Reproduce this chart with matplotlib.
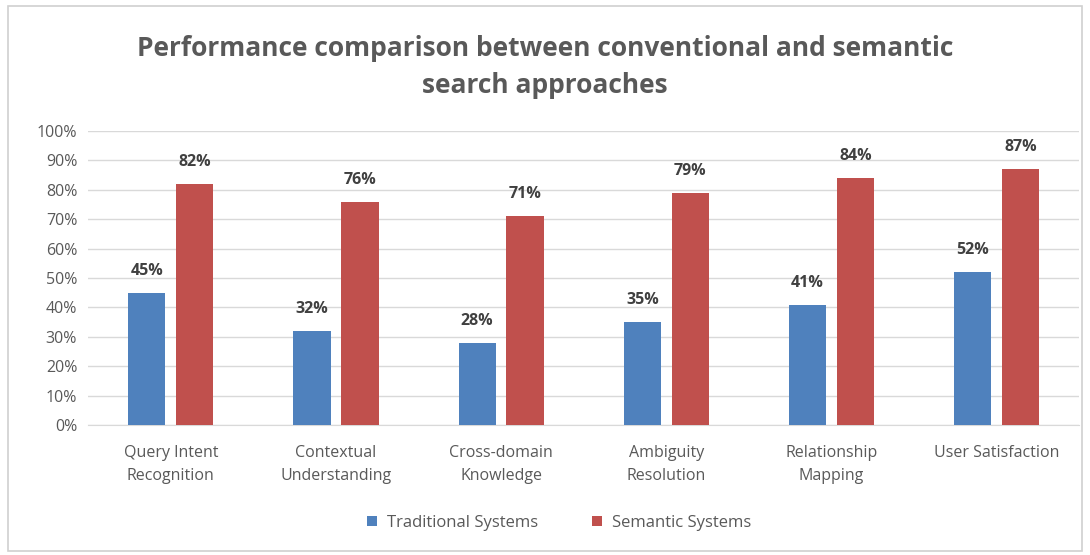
import matplotlib.pyplot as plt
import numpy as np
from matplotlib.patches import Rectangle

categories = ["Query Intent\nRecognition", "Contextual\nUnderstanding", "Cross-domain\nKnowledge",
              "Ambiguity\nResolution", "Relationship\nMapping", "User Satisfaction"]
traditional = [45, 32, 28, 35, 41, 52]
semantic = [82, 76, 71, 79, 84, 87]

blue = '#4F81BD'
red = '#C0504D'
grey = '#595959'

plt.rcParams['font.family'] = ['Open Sans', 'DejaVu Sans']

fig = plt.figure(figsize=(10.9, 5.55), dpi=100)
ax = fig.add_axes([0.081, 0.234, 0.909, 0.530])

x = np.arange(len(categories))
w = 0.225
b1 = ax.bar(x - 0.145, traditional, w, color=blue, label='Traditional Systems', zorder=3)
b2 = ax.bar(x + 0.145, semantic, w, color=red, label='Semantic Systems', zorder=3)

for bars, vals in ((b1, traditional), (b2, semantic)):
    for r, v in zip(bars, vals):
        ax.annotate(f"{v}%", (r.get_x() + r.get_width() / 2, v), xytext=(0, 10),
                    textcoords='offset points', ha='center', va='bottom',
                    fontsize=11.5, fontweight='bold', color='#404040')

ax.set_xlim(-0.5, len(categories) - 0.5)
ax.set_ylim(0, 100)
ax.set_yticks(range(0, 101, 10))
ax.set_yticklabels([f"{t}%" for t in range(0, 101, 10)])
ax.set_xticks(x)
ax.set_xticklabels(categories, linespacing=1.6)
ax.tick_params(axis='both', length=0, labelsize=11.5, labelcolor=grey)
ax.tick_params(axis='x', pad=14)
ax.tick_params(axis='y', pad=8)
ax.grid(axis='y', color='#D9D9D9', linewidth=1, zorder=0)
for s in ['top', 'right', 'left']:
    ax.spines[s].set_visible(False)
ax.spines['bottom'].set_color('#D9D9D9')

fig.suptitle("Performance comparison between conventional and semantic\nsearch approaches",
             y=0.937, fontsize=19, fontweight='bold', color=grey, linespacing=1.5)

fig.legend(handles=[b1, b2], loc='center', bbox_to_anchor=(0.513, 0.058), ncol=2,
           frameon=False, fontsize=12, labelcolor=grey, handlelength=0.6,
           handleheight=0.6, handletextpad=0.6, columnspacing=3.2)

fig.patches.append(Rectangle((0.007, 0.008), 0.986, 0.982, transform=fig.transFigure,
                             fill=False, edgecolor='#D0D0D0', linewidth=1.2))

fig.savefig('out.png', dpi=100)
